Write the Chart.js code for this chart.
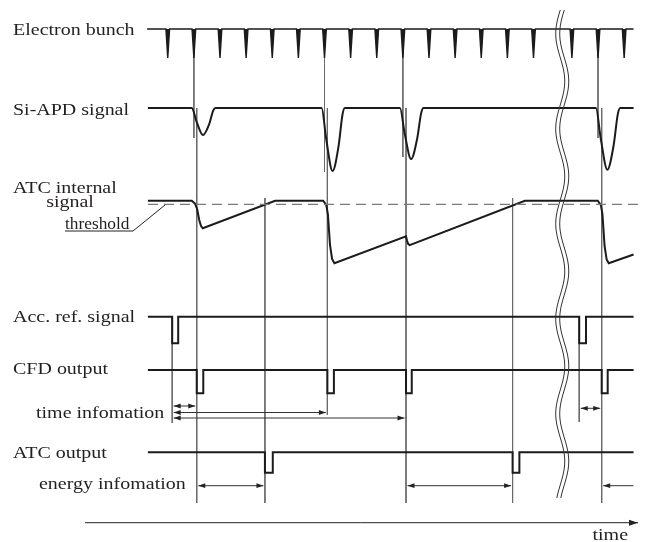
<!DOCTYPE html>
<html>
<head>
<meta charset="utf-8">
<title>ATC timing chart</title>
<script src="https://cdn.jsdelivr.net/npm/chart.js@4.4.1/dist/chart.umd.min.js"></script>
<style>
    html, body { margin: 0; padding: 0; background: #fff; }
    #wrap { width: 647px; height: 542px; position: relative; }
</style>
</head>
<body>
<div id="wrap"><canvas id="timing-chart"></canvas></div>
<script>
// time is measured in bunch periods (0 = first bunch after the line starts)
const bunchTimes = [0, 1, 2, 3, 4, 5, 6, 7, 8, 9, 10, 11, 12, 13, 14, 15.47, 16.47, 17.47]
const lineStart = -0.76
const lineEnd = 17.83

// Si-APD pulses (amplitude relative to the biggest one)
const apdStart = [0.92, 5.89, 8.89, 16.39]
const apdWidth = [0.91, 0.89, 0.9, 0.93]
const apdAmp = [0.43, 1.0, 0.81, 0.98]
// pulse shape: [fraction of width, fraction of amplitude]
const apdShape = [[0, 0], [0.2, -0.5], [0.47, -1], [0.73, -0.6], [0.9, -0.1], [1, 0]]

// ATC internal signal (1 = resting level)
const atcTimes = [-0.76, 0.92, 1.05, 1.13, 1.2, 1.27, 1.34, 4.11, 5.95, 6.07, 6.13, 6.21, 6.29, 6.38,
    9.12, 9.16, 9.2, 9.26, 13.67, 16.46, 16.58, 16.64, 16.72, 16.8, 16.88, 17.83]
const atcLevels = [1, 1, 0.95, 0.86, 0.7, 0.6, 0.56, 1, 1, 0.93, 0.78, 0.3, 0.07, 0,
    0.43, 0.36, 0.31, 0.29, 1, 1, 0.93, 0.78, 0.28, 0.06, 0, 0.14]
const thresholdLevel = 0.94

// logic pulses: start / end times
const accStart = [0.17, 15.75]
const accEnd = [0.4, 16.01]
const cfdStart = [1.11, 6.11, 9.12, 16.61]
const cfdEnd = [1.36, 6.36, 9.34, 16.84]
const atcOutStart = [3.72, 13.2]
const atcOutEnd = [4.02, 13.46]

// marker lines
const bunchGuideTimes = [1, 6, 9, 16.47]
const hitGuideTimes = [1.11, 6.11, 9.12, 16.61]
const crossGuideTimes = [3.72, 13.2]
const accGuideTimes = [0.17, 15.75]

// measured intervals
const timeInfoFrom = [0.17, 0.17, 0.17, 15.75]
const timeInfoTo = [1.11, 6.11, 9.12, 16.61]
const energyFrom = [1.11, 9.12, 16.61]
const energyTo = [3.72, 13.2, 17.83]
const breakTime = 15.1

// ---- layout (pixels) ----
const H = 542
const rowLayout = {
    bunch: {base: 29, gain: 29},
    apd: {base: 108, gain: 63},
    atc: {base: 263.3, gain: 62.6},
    acc: {base: 316.7, gain: 26.6},
    cfd: {base: 370, gain: 23.3},
    out: {base: 452.3, gain: 20.4},
}
const bunchGuideBottom = [138, 172, 157, 138]
const hitGuideBottom = [503, 415, 503, 503]
const accGuideBottom = [423, 422]
const timeInfoY = [406, 412.5, 418, 408.3]
const energyY = 485.7

const ink = '#1b1b1b'
const guideColor = '#6a6a6a'
const fontFamily = '"Liberation Serif", "Times New Roman", serif'

function rowAxis(r) {
    const max = r.base / r.gain
    return {type: 'linear', display: false, min: max - H / r.gain, max: max}
}

function spikePoints(times) {
    const pts = [{x: -0.79, y: 0}]
    times.forEach(t => {
        pts.push({x: t - 0.07, y: 0}, {x: t, y: -1}, {x: t + 0.07, y: 0})
    })
    pts.push({x: lineEnd, y: 0})
    return pts
}

function pulsePoints(starts, widths, amps) {
    const pts = [{x: lineStart, y: 0}]
    starts.forEach((s, i) => {
        apdShape.forEach(([f, v]) => pts.push({x: s + f * widths[i], y: v * amps[i]}))
    })
    pts.push({x: lineEnd, y: 0})
    return pts
}

function stepPoints(starts, ends) {
    const pts = [{x: lineStart, y: 0}]
    starts.forEach((s, i) => {
        pts.push({x: s, y: 0}, {x: s, y: -1}, {x: ends[i], y: -1}, {x: ends[i], y: 0})
    })
    pts.push({x: lineEnd, y: 0})
    return pts
}

function guidePoints(times, top, bottoms) {
    const pts = []
    times.forEach((t, i) => {
        const bt = Array.isArray(bottoms) ? bottoms[i] : bottoms
        pts.push({x: t, y: top}, {x: t, y: bt}, {x: t, y: null})
    })
    return pts
}

const signal = {borderColor: ink, borderWidth: 2, pointRadius: 0, fill: false, tension: 0}

const labelItems = [
    {text: 'Electron bunch', x: 13, y: 35},
    {text: 'Si-APD signal', x: 13, y: 115},
    {text: 'ATC internal', x: 13, y: 193.3},
    {text: 'signal', x: 70, y: 206.5, align: 'center'},
    {text: 'threshold', x: 65, y: 229, size: 16.5, stretch: 1.05},
    {text: 'Acc. ref. signal', x: 13, y: 321.7},
    {text: 'CFD output', x: 13, y: 374.3},
    {text: 'time infomation', x: 36, y: 418.3},
    {text: 'ATC output', x: 13, y: 457.7},
    {text: 'energy infomation', x: 39, y: 489.3},
    {text: 'time', x: 628, y: 540, align: 'right'},
]

function drawArrow(ctx, xa, xb, y, headA, headB, len, half) {
    ctx.beginPath()
    ctx.moveTo(xa, y)
    ctx.lineTo(xb, y)
    ctx.stroke()
    const dir = xb > xa ? 1 : -1
    if (headA) {
        ctx.beginPath()
        ctx.moveTo(xa, y)
        ctx.lineTo(xa + dir * len, y - half)
        ctx.lineTo(xa + dir * len, y + half)
        ctx.closePath()
        ctx.fill()
    }
    if (headB) {
        ctx.beginPath()
        ctx.moveTo(xb, y)
        ctx.lineTo(xb - dir * len, y - half)
        ctx.lineTo(xb - dir * len, y + half)
        ctx.closePath()
        ctx.fill()
    }
}

const decorations = {
    id: 'decorations',
    afterDatasetsDraw(chart) {
        const ctx = chart.ctx
        const xs = chart.scales.x
        const px = t => xs.getPixelForValue(t)
        ctx.save()
        ctx.strokeStyle = '#333'
        ctx.fillStyle = '#222'
        ctx.lineWidth = 1

        // interval arrows
        timeInfoFrom.forEach((t, i) => {
            drawArrow(ctx, px(t) + 1.5, px(timeInfoTo[i]) - 1.5, timeInfoY[i], true, true, 7, 2.4)
        })
        energyFrom.forEach((t, i) => {
            const last = i === energyFrom.length - 1
            drawArrow(ctx, px(t) + 1.5, px(energyTo[i]) - (last ? 0 : 1.5), energyY, true, !last, 7, 2.4)
        })

        // time axis
        ctx.strokeStyle = '#222'
        drawArrow(ctx, 85, 638, 522.7, false, true, 9, 3)

        // threshold pointer
        ctx.beginPath()
        ctx.moveTo(65, 231)
        ctx.lineTo(133, 231)
        ctx.lineTo(165, 205)
        ctx.stroke()

        // axis break: double wavy line
        const bx = px(breakTime)
        ctx.strokeStyle = '#333'
        ;[-2, 2].forEach(off => {
            ctx.beginPath()
            for (let y = 10; y <= 498; y += 2) {
                const x = bx + off - 4.5 * Math.sin(2 * Math.PI * (y - 10) / 95)
                if (y === 10) ctx.moveTo(x, y)
                else ctx.lineTo(x, y)
            }
            ctx.stroke()
        })

        // labels
        ctx.fillStyle = '#231f20'
        ctx.textBaseline = 'alphabetic'
        labelItems.forEach(l => {
            ctx.save()
            ctx.font = (l.size || 17.7) + 'px ' + fontFamily
            ctx.textAlign = l.align || 'left'
            ctx.translate(l.x, l.y)
            ctx.scale(l.stretch || 1.13, 1)
            ctx.fillText(l.text, 0, 0)
            ctx.restore()
        })
        ctx.restore()
    }
}

const timingChart = new Chart(document.getElementById('timing-chart'), {
    type: 'line',
    data: {
        datasets: [
            {
                ...signal,
                label: 'Electron bunch',
                data: spikePoints(bunchTimes),
                yAxisID: 'bunchAxis',
                borderWidth: 1.4,
                fill: 'origin',
                backgroundColor: ink,
            },
            {
                ...signal,
                label: 'Si-APD signal',
                data: pulsePoints(apdStart, apdWidth, apdAmp),
                yAxisID: 'apdAxis',
                cubicInterpolationMode: 'monotone',
            },
            {
                ...signal,
                label: 'threshold',
                data: [{x: lineStart, y: thresholdLevel}, {x: 18.07, y: thresholdLevel}],
                yAxisID: 'atcAxis',
                borderColor: '#7a7a7a',
                borderWidth: 1.3,
                borderDash: [10, 6],
            },
            {
                ...signal,
                label: 'ATC internal signal',
                data: atcTimes.map((t, i) => ({x: t, y: atcLevels[i]})),
                yAxisID: 'atcAxis',
            },
            {
                ...signal,
                label: 'Acc. ref. signal',
                data: stepPoints(accStart, accEnd),
                yAxisID: 'accAxis',
            },
            {
                ...signal,
                label: 'CFD output',
                data: stepPoints(cfdStart, cfdEnd),
                yAxisID: 'cfdAxis',
            },
            {
                ...signal,
                label: 'ATC output',
                data: stepPoints(atcOutStart, atcOutEnd),
                yAxisID: 'outAxis',
            },
            {
                ...signal,
                label: 'guides',
                data: [
                    ...guidePoints(bunchGuideTimes, rowLayout.bunch.base, bunchGuideBottom),
                    ...guidePoints(hitGuideTimes, rowLayout.apd.base, hitGuideBottom),
                    ...guidePoints(crossGuideTimes, 198, 503),
                    ...guidePoints(accGuideTimes, rowLayout.acc.base, accGuideBottom),
                ],
                yAxisID: 'page',
                borderColor: guideColor,
                borderWidth: 1,
                spanGaps: false,
            },
        ]
    },
    options: {
        responsive: true,
        maintainAspectRatio: false,
        animation: false,
        layout: {
            padding: {left: 11, right: 9, top: 0, bottom: 0}
        },
        scales: {
            x: {type: 'linear', display: false, min: -6, max: 18},
            page: {type: 'linear', display: false, min: 0, max: H, reverse: true},
            bunchAxis: rowAxis(rowLayout.bunch),
            apdAxis: rowAxis(rowLayout.apd),
            atcAxis: rowAxis(rowLayout.atc),
            accAxis: rowAxis(rowLayout.acc),
            cfdAxis: rowAxis(rowLayout.cfd),
            outAxis: rowAxis(rowLayout.out),
        },
        plugins: {
            legend: {display: false},
            tooltip: {enabled: false},
        }
    },
    plugins: [decorations]
})
</script>
</body>
</html>
